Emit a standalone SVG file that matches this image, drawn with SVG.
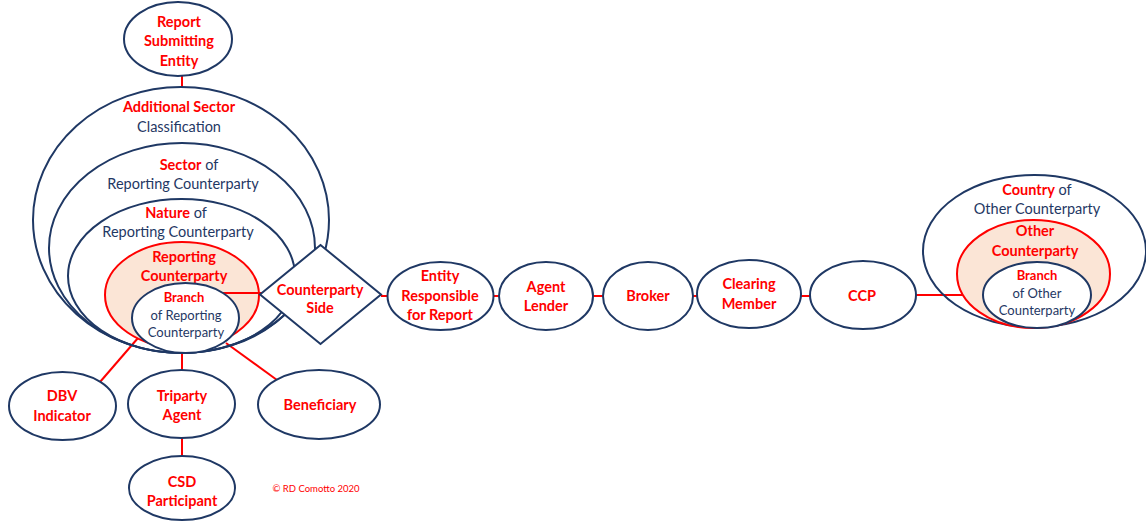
<svg xmlns="http://www.w3.org/2000/svg" width="1146" height="522" viewBox="0 0 1146 522">
<style>
.n{fill:#fff;stroke:#1F3864;stroke-width:2}
.o{fill:none;stroke:#1F3864;stroke-width:2}
.p{fill:#FBE5D6;stroke:#FF0000;stroke-width:2}
.c line{stroke:#FF0000;stroke-width:2}
text{font-family:Lato,"Liberation Sans",sans-serif;text-anchor:middle;font-size:14.5px}
.r{fill:#FF0000;font-weight:bold}
.b{fill:#1F3864}
.s{font-size:13px}
</style>
<rect width="1146" height="522" fill="#fff"/>
<g class="c">
<line x1="182" y1="76" x2="182" y2="87"/>
<line x1="182" y1="353" x2="182" y2="370"/>
<line x1="182" y1="438" x2="182" y2="457"/>
<line x1="138" y1="338" x2="100" y2="382"/>
<line x1="226" y1="343" x2="277" y2="380"/>
<line x1="381" y1="296" x2="388" y2="296"/>
<line x1="493" y1="296" x2="500" y2="296"/>
<line x1="592" y1="296" x2="603" y2="296"/>
<line x1="693" y1="296" x2="698" y2="296"/>
<line x1="801" y1="296" x2="811" y2="296"/>
<line x1="916" y1="295" x2="984" y2="295"/>
</g>
<g id="report-submitting">
<ellipse class="n" cx="178" cy="39" rx="54" ry="37"/>
<text class="r" x="179" y="27">Report</text>
<text class="r" x="179" y="46">Submitting</text>
<text class="r" x="179" y="66">Entity</text>
</g>
<g id="additional-sector">
<ellipse class="o" cx="181" cy="220" rx="148" ry="133"/>
<text x="179" y="112"><tspan class="r">Additional Sector</tspan></text>
<text class="b" x="179" y="132">Classification</text>
</g>
<g id="sector">
<ellipse class="o" cx="182" cy="248" rx="133" ry="105"/>
<text x="189" y="170"><tspan class="r">Sector</tspan><tspan class="b"> of</tspan></text>
<text class="b" x="183" y="189">Reporting Counterparty</text>
</g>
<g id="nature">
<ellipse class="o" cx="181.5" cy="276" rx="113.5" ry="77"/>
<text x="176" y="218"><tspan class="r">Nature</tspan><tspan class="b"> of</tspan></text>
<text class="b" x="178" y="237">Reporting Counterparty</text>
</g>
<g id="reporting-counterparty">
<ellipse class="p" cx="182" cy="295" rx="77" ry="53"/>
<text class="r" x="184" y="262">Reporting</text>
<text class="r" x="184" y="281">Counterparty</text>
</g>
<g id="branch-reporting">
<line x1="223" y1="293" x2="262" y2="293" stroke="#FF0000" stroke-width="2"/>
<ellipse class="n" cx="185.5" cy="318" rx="53.5" ry="35"/>
<text class="r s" x="184" y="302">Branch</text>
<text class="b s" x="186" y="320">of Reporting</text>
<text class="b s" x="186" y="337">Counterparty</text>
</g>
<g id="counterparty-side">
<polygon class="n" points="320.5,245 381,294.5 320.5,344 260,294.5"/>
<text class="r" x="320" y="295">Counterparty</text>
<text class="r" x="320" y="313">Side</text>
</g>
<g id="entity-responsible">
<ellipse class="n" cx="440.5" cy="296" rx="53" ry="34"/>
<text class="r" x="440" y="281">Entity</text>
<text class="r" x="440" y="301">Responsible</text>
<text class="r" x="440" y="320">for Report</text>
</g>
<g id="agent-lender">
<ellipse class="n" cx="546" cy="296" rx="47" ry="34"/>
<text class="r" x="546" y="292">Agent</text>
<text class="r" x="546" y="311">Lender</text>
</g>
<g id="broker">
<ellipse class="n" cx="648" cy="296" rx="45" ry="34"/>
<text class="r" x="648" y="301">Broker</text>
</g>
<g id="clearing-member">
<ellipse class="n" cx="749" cy="294" rx="52" ry="34"/>
<text class="r" x="749" y="289">Clearing</text>
<text class="r" x="749" y="309">Member</text>
</g>
<g id="ccp">
<ellipse class="n" cx="863" cy="295" rx="53" ry="34"/>
<text class="r" x="862" y="301">CCP</text>
</g>
<g id="country-other">
<ellipse class="o" cx="1034.5" cy="251" rx="111.5" ry="76"/>
<text x="1037" y="195"><tspan class="r">Country</tspan><tspan class="b"> of</tspan></text>
<text class="b" x="1037" y="214">Other Counterparty</text>
</g>
<g id="other-counterparty">
<ellipse class="p" cx="1033.5" cy="274" rx="76.5" ry="54"/>
<text class="r" x="1035" y="236">Other</text>
<text class="r" x="1035" y="256">Counterparty</text>
</g>
<g id="branch-other">
<line x1="984" y1="295" x2="990" y2="295" stroke="#FF0000" stroke-width="2"/>
<ellipse class="n" cx="1037" cy="295" rx="54" ry="33"/>
<text class="r s" x="1037" y="280">Branch</text>
<text class="b s" x="1037" y="298">of Other</text>
<text class="b s" x="1037" y="315">Counterparty</text>
</g>
<g id="dbv">
<ellipse class="n" cx="62.5" cy="406" rx="53.5" ry="34"/>
<text class="r" x="62" y="401">DBV</text>
<text class="r" x="62" y="421">Indicator</text>
</g>
<g id="triparty">
<ellipse class="n" cx="181.5" cy="404" rx="53.5" ry="34"/>
<text class="r" x="182" y="401">Triparty</text>
<text class="r" x="182" y="420">Agent</text>
</g>
<g id="beneficiary">
<ellipse class="n" cx="319" cy="404.5" rx="61" ry="34.5"/>
<text class="r" x="320" y="410">Beneficiary</text>
</g>
<g id="csd">
<ellipse class="n" cx="182" cy="488" rx="53" ry="32"/>
<text class="r" x="182" y="487">CSD</text>
<text class="r" x="182" y="506">Participant</text>
</g>
<text x="316" y="492" fill="#FF0000" style="font-size:9.5px">© RD Comotto 2020</text>
</svg>
